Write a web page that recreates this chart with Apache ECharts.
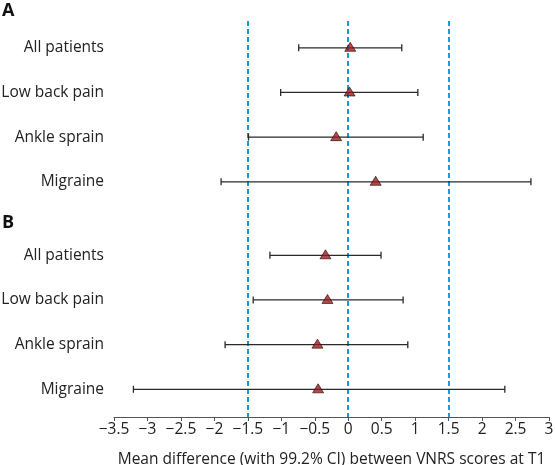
<!DOCTYPE html>
<html>
<head>
<meta charset="utf-8">
<script src="https://cdn.jsdelivr.net/npm/echarts@6/dist/echarts.min.js"></script>
<style>
  html, body { margin: 0; padding: 0; background: #fff; }
  #chart { width: 555px; height: 465px; }
</style>
</head>
<body>
<div id="chart"></div>
<script>
// forest plot, two panels (A, B)
const panels = ['A', 'B']
const categories = ['All patients', 'Low back pain', 'Ankle sprain', 'Migraine']
const meanA = [0.03, 0.02, -0.18, 0.41]
const lowA = [-0.74, -1.01, -1.49, -1.90]
const highA = [0.80, 1.04, 1.12, 2.73]
const meanB = [-0.34, -0.31, -0.46, -0.45]
const lowB = [-1.17, -1.42, -1.84, -3.21]
const highB = [0.49, 0.82, 0.89, 2.34]
const limits = [-1.5, 0, 1.5]

const font = 'Open Sans'
const panelGap = 4.645 // row offset of panel B

const barData = []
const pointData = []
;[[lowA, highA, meanA], [lowB, highB, meanB]].forEach(([lo, hi, mean], p) => {
  categories.forEach((c, i) => {
    const row = p * panelGap + i
    barData.push([lo[i], hi[i], row, i])
    pointData.push([mean[i], row])
  })
})

const minus = (v) => String(v).replace('-', '\u2212')

const chart = echarts.init(document.getElementById('chart'))
chart.setOption({
  animation: false,
  textStyle: { fontFamily: font },
  grid: { left: 114, right: 6, top: 21, bottom: 48, outerBoundsMode: 'none', containLabel: false },
  xAxis: {
    type: 'value',
    min: -3.5,
    max: 3,
    interval: 0.5,
    splitLine: { show: false },
    axisLine: { onZero: false, lineStyle: { color: '#555', width: 1 } },
    axisTick: { length: 4, lineStyle: { color: '#555' } },
    axisLabel: {
      color: '#222',
      fontSize: 15.5,
      margin: 5,
      formatter: minus,
    },
    name: 'Mean difference (with 99.2% CI) between VNRS scores at T1',
    nameLocation: 'middle',
    nameGap: 35,
    nameTextStyle: { color: '#222', fontSize: 15.5, fontFamily: font },
  },
  yAxis: {
    type: 'value',
    inverse: true,
    min: -0.6,
    max: 8.265,
    show: false,
  },
  graphic: panels.map((p, k) => ({
    type: 'text',
    left: 2,
    top: k === 0 ? 2 : 214,
    style: { text: p, font: 'bold 18px ' + font, fill: '#111' },
  })),
  series: [
    {
      type: 'custom',
      data: barData,
      encode: { x: [0, 1], y: 2 },
      renderItem(params, api) {
        const y = api.value(2)
        const a = api.coord([api.value(0), y])
        const b = api.coord([api.value(1), y])
        const cap = 3.5
        const st = { stroke: '#2a2a2a', lineWidth: 1.3 }
        return {
          type: 'group',
          children: [
            { type: 'line', shape: { x1: a[0], y1: a[1], x2: b[0], y2: b[1] }, style: st },
            { type: 'line', shape: { x1: a[0], y1: a[1] - cap, x2: a[0], y2: a[1] + cap }, style: st },
            { type: 'line', shape: { x1: b[0], y1: b[1] - cap, x2: b[0], y2: b[1] + cap }, style: st },
            {
              type: 'text',
              x: params.coordSys.x - 10,
              y: a[1],
              style: {
                text: categories[api.value(3)],
                align: 'right',
                verticalAlign: 'middle',
                font: '15.5px ' + font,
                fill: '#222',
              },
            },
          ],
        }
      },
      z: 3,
    },
    {
      type: 'scatter',
      data: pointData,
      symbol: 'triangle',
      symbolSize: [11, 9],
      symbolOffset: [0, -1],
      itemStyle: { color: '#9c1a20', borderColor: '#2a0606', borderWidth: 0.8 },
      z: 5,
      markLine: {
        silent: true,
        symbol: 'none',
        label: { show: false },
        lineStyle: { color: '#1e9ad0', type: [5, 3], width: 2 },
        data: limits.map((v) => ({ xAxis: v })),
        z: 1,
      },
    },
  ],
})
</script>
</body>
</html>
